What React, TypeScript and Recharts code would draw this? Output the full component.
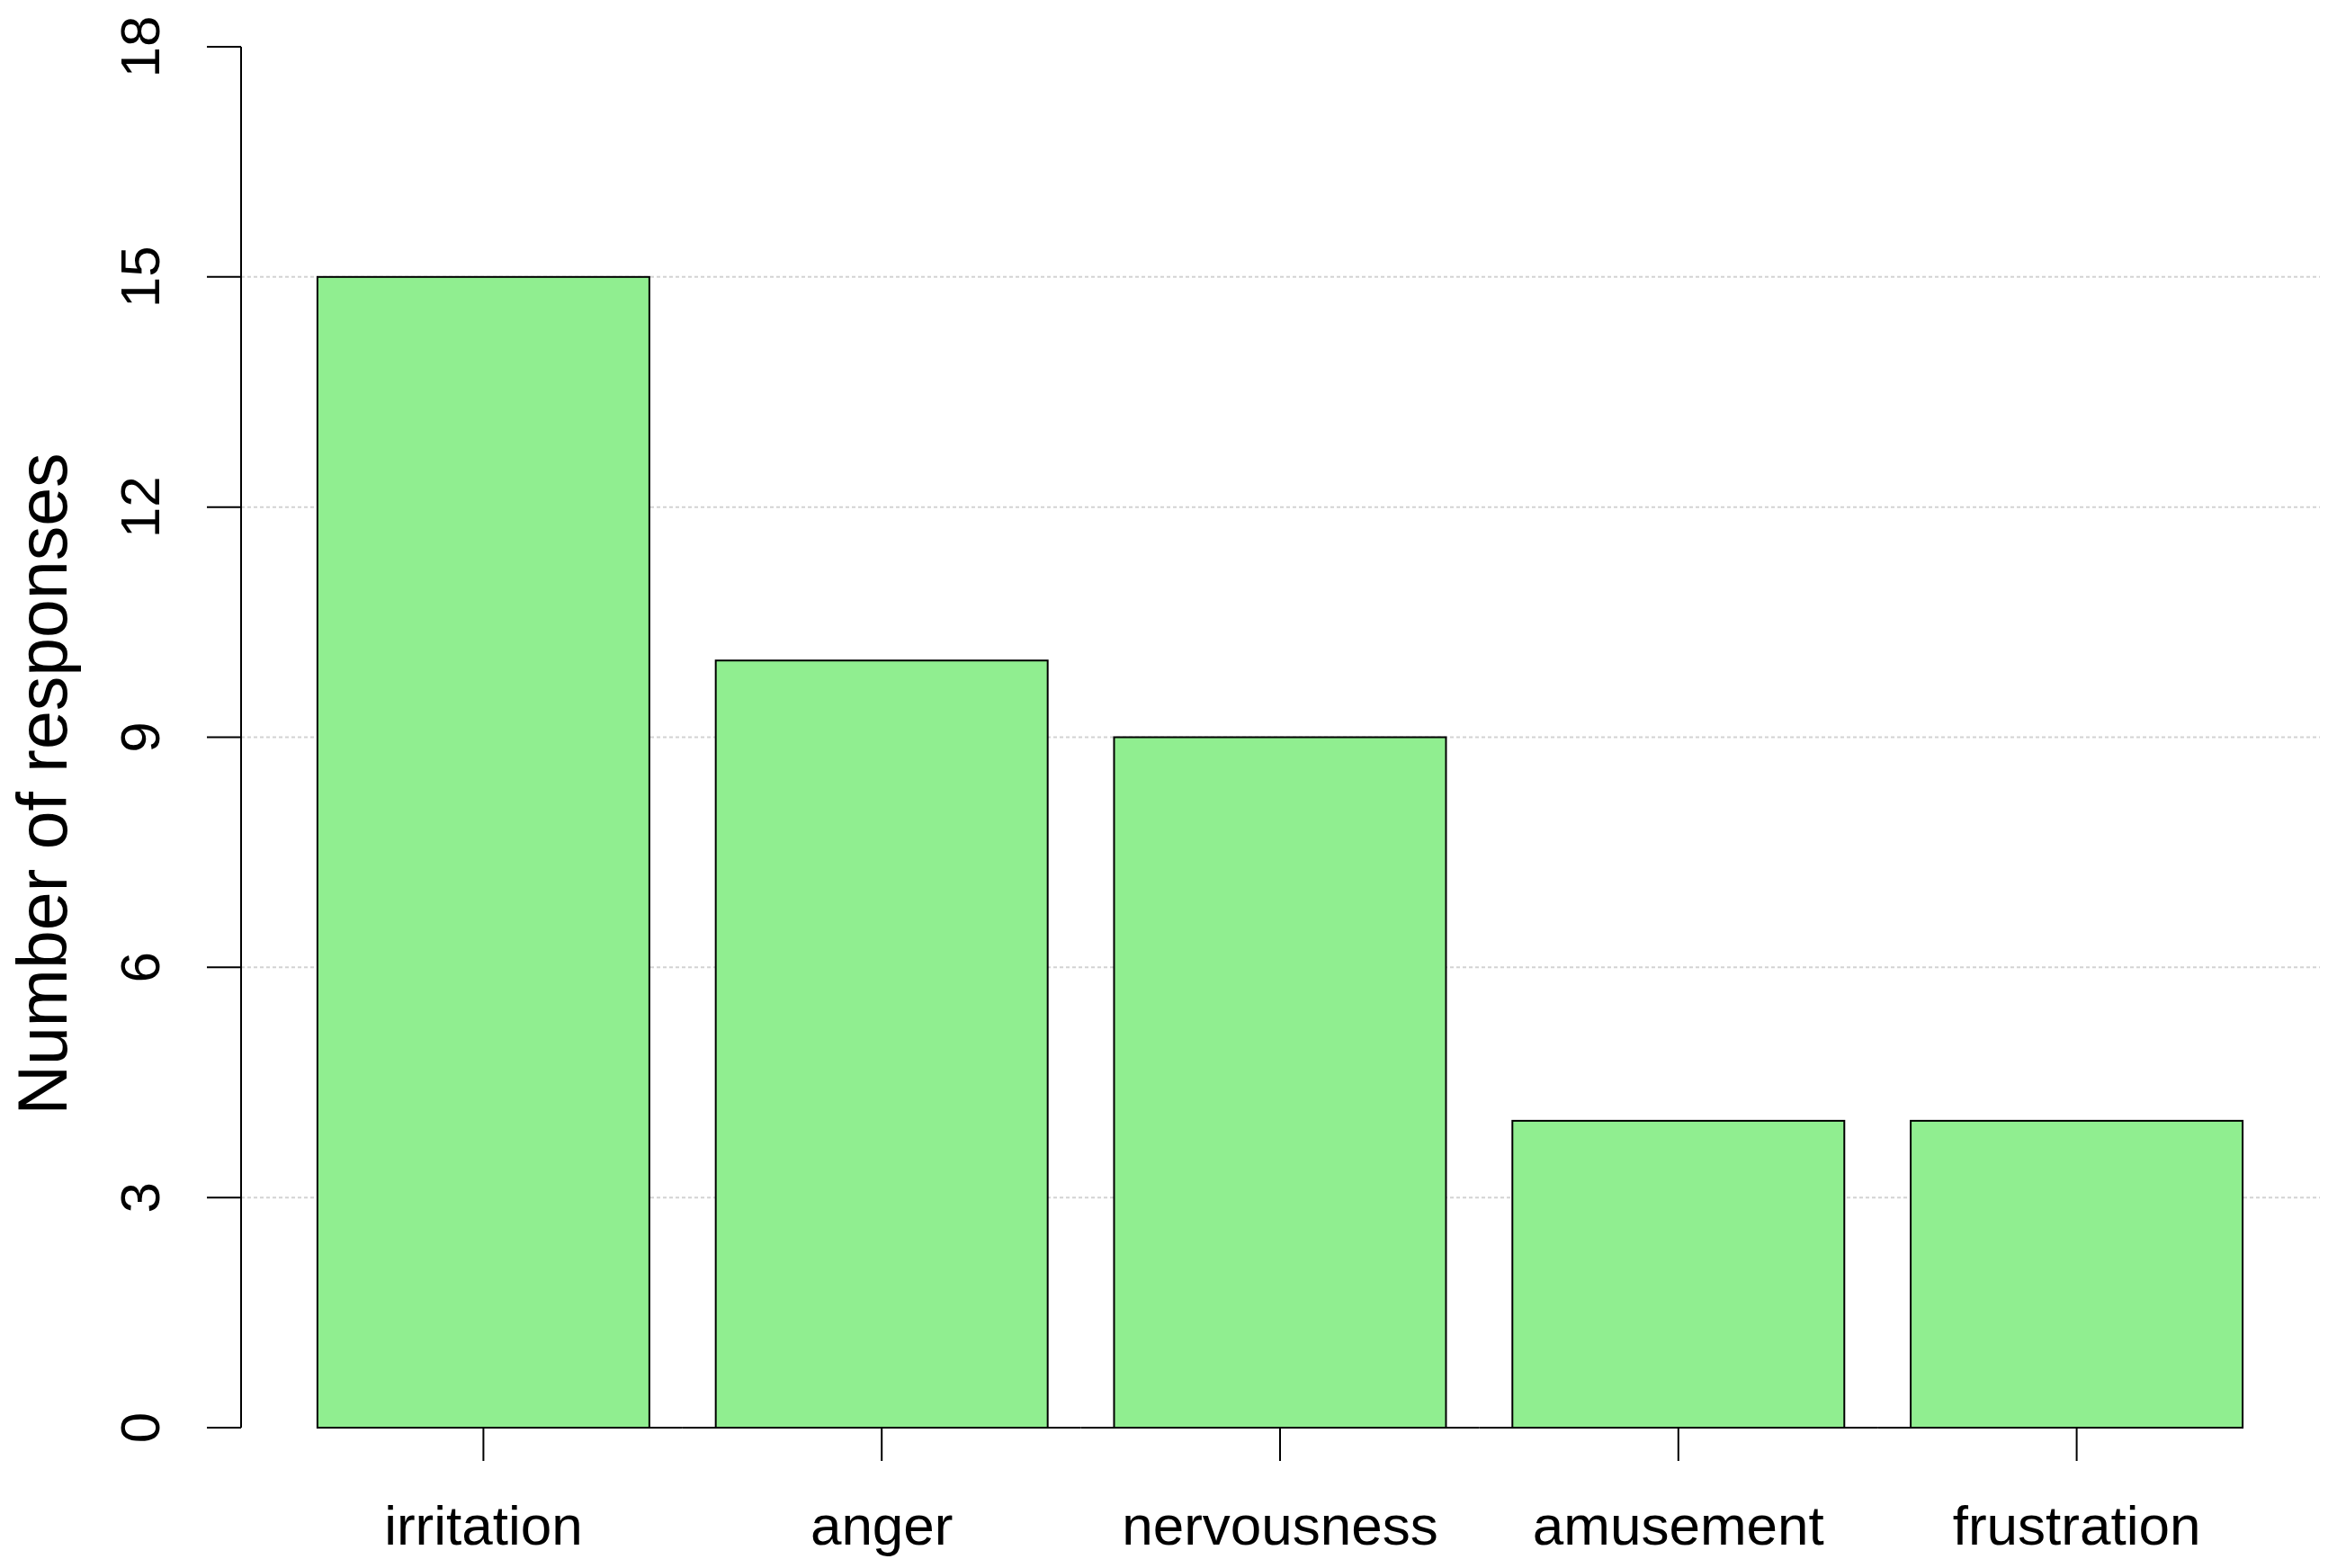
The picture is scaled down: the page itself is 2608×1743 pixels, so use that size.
import { BarChart, Bar, XAxis, YAxis, CartesianGrid, Label } from 'recharts'

const categories = ['irritation', 'anger', 'nervousness', 'amusement', 'frustration']
const responses = [15, 10, 9, 4, 4]
const yTicks = [0, 3, 6, 9, 12, 15, 18]
const gridValues = [3, 6, 9, 12, 15]
const yDomain = [0, 18]
const yTitle = 'Number of responses'

const data = categories.map((name, i) => ({ name, value: responses[i] }))

const FONT = '"Liberation Sans", Arial, Helvetica, sans-serif'
const FILL = '#90ee90'

const YTick = ({ x, y, payload }: any) => (
  <text x={x} y={y} transform={`rotate(-90, ${x}, ${y})`} textAnchor="middle"
    fontFamily={FONT} fontSize={62} fill="#000">
    {payload.value}
  </text>
)

const XTick = ({ x, y, payload }: any) => (
  <text x={x} y={y} textAnchor="middle" fontFamily={FONT} fontSize={62} fill="#000">
    {payload.value}
  </text>
)

// bar outline plus the baseline that runs across the gaps between bars
const BarShape = (props: any) => {
  const { x, y, width, height, index } = props
  const half = width * 0.1
  const x0 = index === 0 ? x : x - half
  const x1 = index === data.length - 1 ? x + width : x + width + half
  return (
    <g>
      <rect x={x} y={y} width={width} height={height} fill={FILL} stroke="#000" strokeWidth={2} />
      <line x1={x0} x2={x1} y1={y + height} y2={y + height} stroke="#000" strokeWidth={2} />
    </g>
  )
}

const YTitle = ({ viewBox }: any) => {
  const cx = viewBox.x + 74
  const cy = viewBox.y + viewBox.height / 2 + 52
  return (
    <text x={cx} y={cy} transform={`rotate(-90, ${cx}, ${cy})`} textAnchor="middle"
      fontFamily={FONT} fontSize={77} fill="#000">
      {yTitle}
    </text>
  )
}

// grid only at the inner ticks (no line at 0 or 18)
const gridRows = ({ yAxis, offset }: any) => {
  if (yAxis && typeof yAxis.scale === 'function') return gridValues.map(v => yAxis.scale(v))
  const [lo, hi] = yDomain
  return gridValues.map(v => offset.top + offset.height * (1 - (v - lo) / (hi - lo)))
}

export default function App() {
  return (
    <div style={{ position: 'absolute', left: 0, top: 0, background: '#fff' }}>
      <BarChart width={2608} height={1743} data={data}
        margin={{ top: 52, right: 29, bottom: 0, left: 0 }}
        barCategoryGap="8.33%">
        <CartesianGrid vertical={false} horizontalCoordinatesGenerator={gridRows}
          stroke="#d3d3d3" strokeWidth={2} strokeDasharray="4 3" />
        <XAxis dataKey="name" height={156} padding={{ left: 48, right: 49 }}
          axisLine={false} tickSize={37} tickMargin={93}
          tickLine={{ stroke: '#000', strokeWidth: 2 }} tick={<XTick />} interval={0} />
        <YAxis width={268} domain={yDomain} ticks={yTicks} interval={0}
          tickSize={38} tickMargin={53}
          axisLine={{ stroke: '#000', strokeWidth: 2 }}
          tickLine={{ stroke: '#000', strokeWidth: 2 }} tick={<YTick />}>
          <Label content={<YTitle />} />
        </YAxis>
        <Bar dataKey="value" shape={<BarShape />} isAnimationActive={false} />
      </BarChart>
    </div>
  )
}
